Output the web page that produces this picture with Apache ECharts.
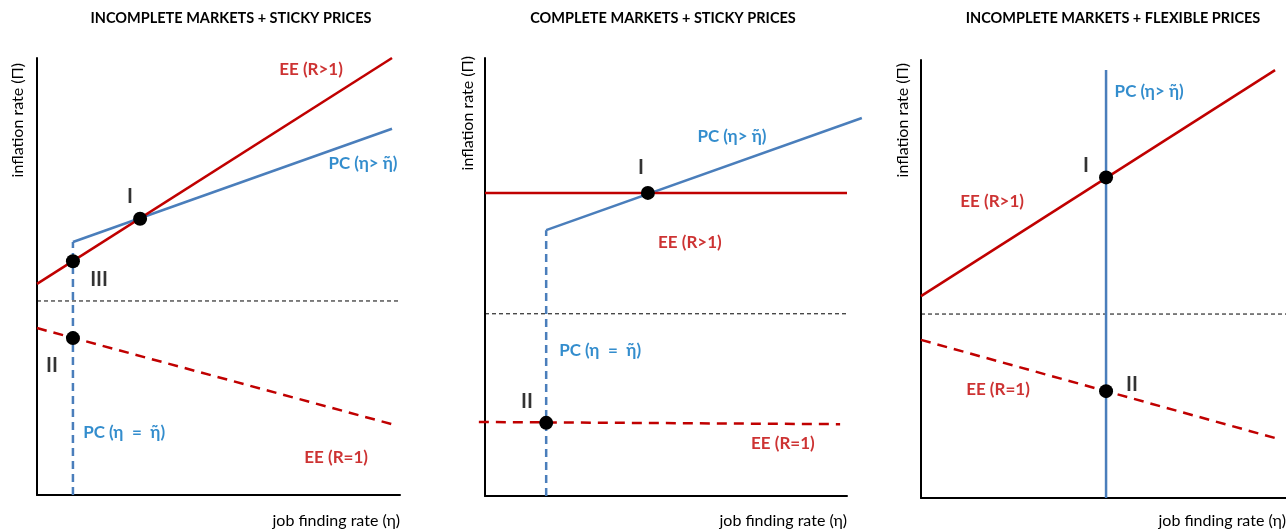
<!DOCTYPE html>
<html>
<head>
<meta charset="utf-8">
<script src="https://cdn.jsdelivr.net/npm/echarts@6/dist/echarts.min.js"></script>
<style>
  html, body { margin: 0; padding: 0; background: #fff; }
  #chart { width: 1286px; height: 529px; }
</style>
</head>
<body>
<div id="chart"></div>
<script>
// Schematic curves on a 0-100 scale for both axes in every panel.
const panelTitles = [
  'INCOMPLETE MARKETS + STICKY PRICES',
  'COMPLETE MARKETS + STICKY PRICES',
  'INCOMPLETE MARKETS + FLEXIBLE PRICES'
];
const xAxisName = 'job finding rate (η)';
const yAxisName = 'inflation rate (Π)';

// Panel 1: incomplete markets, sticky prices
const p1EEHigh = [[0, 48.3], [97.8, 100]];
const p1PCAbove = [[9.9, 57.9], [97.8, 83.8]];
const p1PCAt = [[9.9, 0], [9.9, 57.9]];
const p1ZeroInflation = [[0, 44.4], [100, 44.4]];
const p1EELow = [[0, 38.2], [97.8, 16.2]];
const p1Equilibria = [[28.4, 63.2], [9.9, 53.5], [9.9, 35.9]];

// Panel 2: complete markets, sticky prices
const p2EEHigh = [[0, 69.2], [100, 69.2]];
const p2PCAbove = [[16.9, 60.7], [104.1, 86.3]];
const p2PCAt = [[16.9, 0], [16.9, 60.7]];
const p2ZeroInflation = [[0, 41.6], [100, 41.6]];
const p2EELow = [[-1.7, 16.9], [98.1, 16.4]];
const p2Equilibria = [[45.0, 69.2], [16.9, 16.7]];

// Panel 3: incomplete markets, flexible prices
const p3EEHigh = [[0, 46.1], [97.0, 97.7]];
const p3PC = [[50.7, 0], [50.7, 97.7]];
const p3ZeroInflation = [[0, 42.0], [100, 42.0]];
const p3EELow = [[0, 36.1], [97.0, 13.7]];
const p3Equilibria = [[50.7, 73.2], [50.7, 24.4]];

// Curve and point annotations: [text, x, y, kind]
const p1Notes = [
  ['EE (R>1)', 75.5, 97.3, 'red'],
  ['PC (η> η̃)', 89.8, 75.9, 'blue'],
  ['I', 25.6, 68.2, 'mark'],
  ['III', 17.1, 49.2, 'mark'],
  ['II', 4.1, 29.7, 'mark'],
  ['PC (η\u2002=\u2002η̃)', 24.0, 14.2, 'blue'],
  ['EE (R=1)', 82.4, 8.5, 'red']
];
const p2Notes = [
  ['PC (η> η̃)', 68.2, 82.0, 'blue'],
  ['I', 43.1, 75.1, 'mark'],
  ['EE (R>1)', 56.6, 57.8, 'red'],
  ['PC (η\u2002=\u2002η̃)', 31.8, 33.3, 'blue'],
  ['II', 11.6, 21.5, 'mark'],
  ['EE (R=1)', 82.3, 11.9, 'red']
];
const p3Notes = [
  ['PC (η> η̃)', 62.5, 92.9, 'blue'],
  ['I', 45.2, 76.0, 'mark'],
  ['EE (R>1)', 19.5, 67.6, 'red'],
  ['EE (R=1)', 21.1, 24.7, 'red'],
  ['II', 57.8, 25.8, 'mark']
];

const RED = '#C00000';
const LINE_BLUE = '#4A7EBB';
const TEXT_BLUE = '#0070C0';
const FONT = 'Lato, "Open Sans", sans-serif';
const CHART_WIDTH = 1286;
const noteStyles = {
  red: { color: RED, fontSize: 17 },
  blue: { color: TEXT_BLUE, fontSize: 17 },
  mark: { color: '#000', fontSize: 20 }
};

// Axis frames of the three panels (pixels)
const frames = [
  { left: 37, top: 58, width: 363, height: 437 },
  { left: 485, top: 58, width: 362, height: 438 },
  { left: 921, top: 60, width: 365, height: 438 }
];
// Curves may run a little past the axis ends, so they are drawn on a
// wider, axis-less grid that shares the frame's scale.
const PAD = 24;

const grids = [];
const xAxes = [];
const yAxes = [];
frames.forEach((f, i) => {
  grids.push({ left: f.left, top: f.top, width: f.width, height: f.height });
  xAxes.push(frameAxis(i, 0, 100, true));
  yAxes.push(frameAxis(i, 0, 100, true));
});
frames.forEach((f, i) => {
  const padL = PAD;
  const padR = Math.min(PAD, CHART_WIDTH - (f.left + f.width));
  grids.push({ left: f.left - padL, top: f.top, width: f.width + padL + padR, height: f.height });
  xAxes.push(frameAxis(3 + i, -padL / f.width * 100, 100 + padR / f.width * 100, false));
  yAxes.push(frameAxis(3 + i, 0, 100, false));
});

function frameAxis(g, min, max, visible) {
  return {
    type: 'value', gridIndex: g, min: min, max: max, show: visible,
    axisLine: { show: visible, onZero: false, lineStyle: { color: '#000', width: 2 } },
    axisTick: { show: false }, axisLabel: { show: false }, splitLine: { show: false }
  };
}

function line(i, data, color, width, dash, z) {
  return {
    type: 'line', xAxisIndex: 3 + i, yAxisIndex: 3 + i, data: data,
    symbol: 'none', showSymbol: false, clip: false, silent: true, z: z,
    lineStyle: { color: color, width: width, type: dash, cap: 'butt' }
  };
}

function points(i, data) {
  return {
    type: 'scatter', xAxisIndex: 3 + i, yAxisIndex: 3 + i, data: data,
    symbolSize: 14, itemStyle: { color: '#000', opacity: 1 }, silent: true, z: 6
  };
}

function notes(i, list) {
  return {
    type: 'scatter', xAxisIndex: 3 + i, yAxisIndex: 3 + i, symbolSize: 1, silent: true, z: 7,
    itemStyle: { color: 'transparent' },
    data: list.map(n => ({
      value: [n[1], n[2]],
      label: {
        show: true, position: 'inside', formatter: n[0],
        color: noteStyles[n[3]].color, fontSize: noteStyles[n[3]].fontSize,
        fontWeight: 'bold', fontFamily: FONT
      }
    }))
  };
}

function panelSeries(i, eeHigh, pcSolid, pcDashed, zero, eeLow, eq, noteList) {
  const s = [
    line(i, zero, '#000', 1, [4, 3], 1),
    line(i, eeLow, RED, 2.5, [10, 7], 2),
    line(i, pcSolid, LINE_BLUE, 2.5, 'solid', 3),
    line(i, eeHigh, RED, 2.5, 'solid', 4)
  ];
  if (pcDashed) s.push(line(i, pcDashed, LINE_BLUE, 2.5, [8, 5], 3));
  s.push(points(i, eq));
  s.push(notes(i, noteList));
  return s;
}

const titleCentres = [231, 663, 1113];
const yNamePos = [[18, 63], [468, 56], [903, 63]];
const graphic = [];
panelTitles.forEach((t, i) => {
  graphic.push({
    type: 'text', x: titleCentres[i], y: 18, silent: true,
    style: { text: t, align: 'center', verticalAlign: 'middle', fill: '#000',
             font: 'bold 14.5px ' + FONT }
  });
  const f = frames[i];
  graphic.push({
    type: 'text', x: f.left + f.width, y: 521, silent: true,
    style: { text: xAxisName, align: 'right', verticalAlign: 'middle', fill: '#000',
             font: '16px ' + FONT }
  });
  graphic.push({
    type: 'text', x: yNamePos[i][0], y: yNamePos[i][1], rotation: Math.PI / 2, silent: true,
    style: { text: yAxisName, align: 'right', verticalAlign: 'middle', fill: '#000',
             font: '16px ' + FONT }
  });
});

const chart = echarts.init(document.getElementById('chart'), null, { renderer: 'canvas' });
chart.setOption({
  animation: false,
  backgroundColor: '#fff',
  grid: grids,
  xAxis: xAxes,
  yAxis: yAxes,
  graphic: graphic,
  series: [].concat(
    panelSeries(0, p1EEHigh, p1PCAbove, p1PCAt, p1ZeroInflation, p1EELow, p1Equilibria, p1Notes),
    panelSeries(1, p2EEHigh, p2PCAbove, p2PCAt, p2ZeroInflation, p2EELow, p2Equilibria, p2Notes),
    panelSeries(2, p3EEHigh, p3PC, null, p3ZeroInflation, p3EELow, p3Equilibria, p3Notes)
  )
});
</script>
</body>
</html>
